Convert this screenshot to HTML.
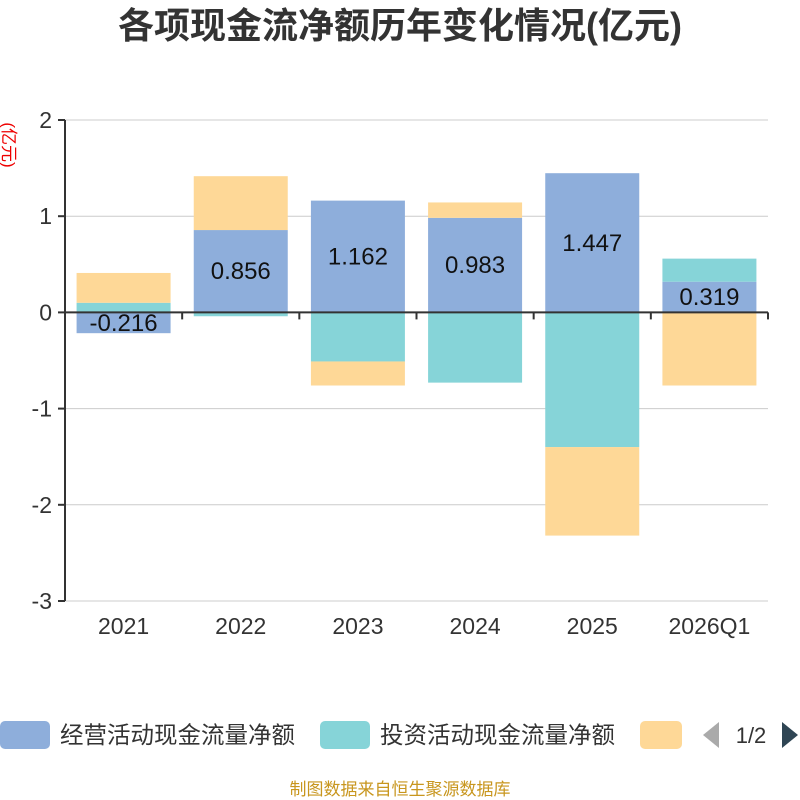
<!DOCTYPE html>
<html><head><meta charset="utf-8"><style>
body{margin:0;background:#fff;}
svg{display:block;font-family:"Liberation Sans","Noto Sans CJK SC",sans-serif;}
</style></head><body>
<svg id="chart" width="800" height="800">
<text x="400" y="38" text-anchor="middle" font-size="36" font-weight="bold" fill="#333">各项现金流净额历年变化情况(亿元)</text>
<text transform="translate(3,145) rotate(90)" text-anchor="middle" font-size="17" fill="#e00">(亿元)</text>
<g id="grid"></g><g id="bars"></g><g id="axes"></g>
<g>
<rect x="0" y="721" width="50" height="28" rx="5" fill="#8eaedb"/>
<text x="60" y="743" font-size="23.5" fill="#333">经营活动现金流量净额</text>
<rect x="320" y="721" width="50" height="28" rx="5" fill="#86d4d8"/>
<text x="380" y="743" font-size="23.5" fill="#333">投资活动现金流量净额</text>
<rect x="640" y="721" width="42" height="28" rx="5" fill="#fed897"/>
<polygon points="719,722 719,748 703,735" fill="#aaa"/>
<text x="751" y="743" font-size="22" fill="#333" text-anchor="middle">1/2</text>
<polygon points="782,722 782,748 798,735" fill="#2f4554"/>
</g>
<text x="400" y="795" text-anchor="middle" font-size="17" fill="#c8961e">制图数据来自恒生聚源数据库</text>
</svg>
<script>
const categories=["2021","2022","2023","2024","2025","2026Q1"];
const operating=[-0.216,0.856,1.162,0.983,1.447,0.319];
const investing=[0.10,-0.04,-0.51,-0.73,-1.40,0.24];
const financing=[0.31,0.56,-0.25,0.16,-0.92,-0.76];
const yTicks=[2,1,0,-1,-2,-3];
const NS="http://www.w3.org/2000/svg";
const x0=65,x1=768,yTop=120,yBot=601,yMax=2,yMin=-3;
const y=v=>yTop+(yMax-v)/(yMax-yMin)*(yBot-yTop);
const band=(x1-x0)/categories.length;
const xc=i=>x0+band*(i+0.5);
function mk(tag,attrs,parent){const e=document.createElementNS(NS,tag);for(const k in attrs)e.setAttribute(k,attrs[k]);parent.appendChild(e);return e;}
const grid=document.getElementById('grid'),bars=document.getElementById('bars'),axes=document.getElementById('axes');
yTicks.forEach(t=>{
 const l=mk('line',{x1:x0,x2:x1,y1:y(t),y2:y(t),stroke:'#ccc','stroke-width':1},grid);
 
 
 const tk=mk('line',{x1:x0-7,x2:x0,y1:y(t),y2:y(t),stroke:'#333','stroke-width':2},axes);
 
 
 const tx=mk('text',{x:x0-13,y:y(t)+8,'text-anchor':'end','font-size':23,fill:'#333'},axes);
 tx.textContent=t;
 
 
});
const series=[[operating,'#8eaedb','operating'],[investing,'#86d4d8','investing'],[financing,'#fed897','financing']];
const bw=94;
categories.forEach((c,i)=>{
 let pos=0,neg=0;
 series.forEach(([arr,col,nm])=>{
  const v=arr[i];let a,b;
  if(v>=0){a=pos;b=pos+v;pos=b;}else{a=neg;b=neg+v;neg=b;}
  const r=mk('rect',{x:xc(i)-bw/2,y:Math.min(y(a),y(b)),width:bw,height:Math.abs(y(a)-y(b)),fill:col},bars);
  
  
 });
 const v=operating[i];
 const lt=mk('text',{x:xc(i),y:y(v/2)+8,'text-anchor':'middle','font-size':24,fill:'#111'},bars);
 lt.textContent=v.toFixed(3);
 
 
 const xl=mk('text',{x:xc(i),y:634,'text-anchor':'middle','font-size':23,fill:'#333'},axes);
 xl.textContent=c;
 
 
});
for(let i=0;i<=categories.length;i++){
 const t=mk('line',{x1:x0+band*i,x2:x0+band*i,y1:y(0),y2:y(0)+7,stroke:'#333','stroke-width':2},axes);
 
 
}
const xa=mk('line',{x1:x0,x2:x1,y1:y(0),y2:y(0),stroke:'#333','stroke-width':2},axes);


const ya=mk('line',{x1:x0,x2:x0,y1:yTop,y2:yBot,stroke:'#333','stroke-width':2},axes);


</script>
</body></html>
